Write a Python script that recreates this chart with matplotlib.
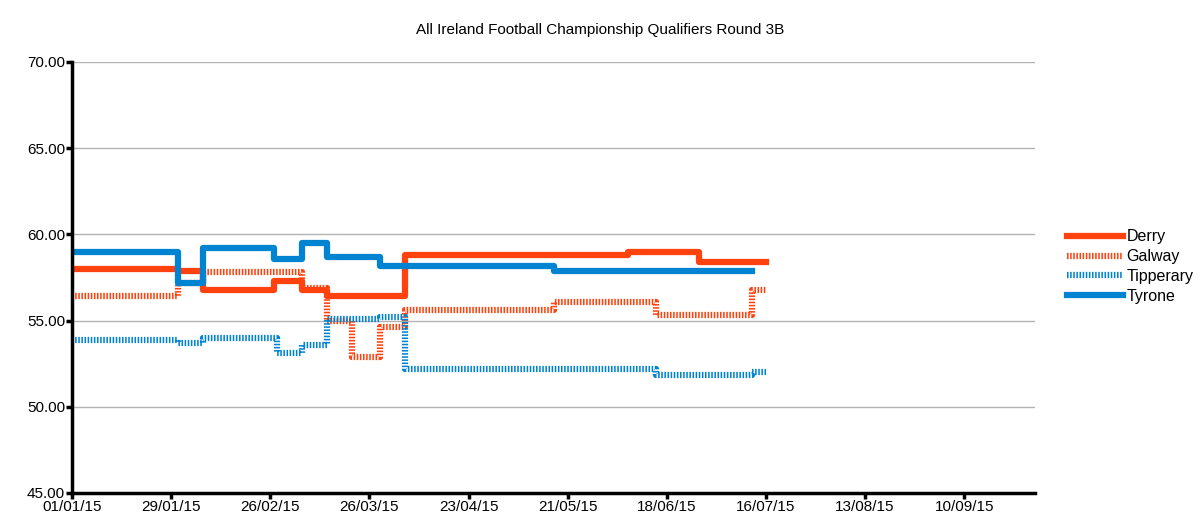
import numpy as np
import matplotlib.pyplot as plt
import matplotlib.dates as mdates
import pandas as pd

plt.rcParams['font.family'] = ['Liberation Sans', 'DejaVu Sans']

# step data (change dates and values, last entry = end of line)
derry_dates = ['2015-01-01', '2015-01-31', '2015-02-07', '2015-02-27', '2015-03-07',
               '2015-03-14', '2015-04-05', '2015-06-07', '2015-06-27', '2015-07-16']
derry_vals = [58.0, 57.9, 56.8, 57.3, 56.8, 56.4, 58.8, 59.0, 58.4, 58.4]

galway_dates = ['2015-01-01', '2015-01-31', '2015-02-07', '2015-03-07', '2015-03-14',
                '2015-03-21', '2015-03-29', '2015-04-05', '2015-05-17', '2015-06-15',
                '2015-07-12', '2015-07-16']
galway_vals = [56.4, 57.2, 57.8, 56.9, 55.0, 52.9, 54.6, 55.6, 56.1, 55.3, 56.8, 56.8]

tipp_dates = ['2015-01-01', '2015-01-31', '2015-02-07', '2015-02-28', '2015-03-07',
              '2015-03-14', '2015-03-29', '2015-04-05', '2015-06-15', '2015-07-12',
              '2015-07-16']
tipp_vals = [53.9, 53.7, 54.0, 53.1, 53.6, 55.1, 55.2, 52.2, 51.85, 52.0, 52.0]

tyrone_dates = ['2015-01-01', '2015-01-31', '2015-02-07', '2015-02-27', '2015-03-07',
                '2015-03-14', '2015-03-29', '2015-05-17', '2015-07-12']
tyrone_vals = [59.0, 57.2, 59.2, 58.6, 59.5, 58.7, 58.15, 57.9, 57.9]

orange = '#ff420e'
blue = '#0084d1'
dots = (0, (0.25, 0.25))

fig = plt.figure(figsize=(12, 5.28), dpi=100)
ax = fig.add_axes([0.06, 0.0663, 0.8025, 0.8163])

ax.plot(pd.to_datetime(derry_dates), derry_vals, drawstyle='steps-post', color=orange,
        lw=4.5, label='Derry', solid_joinstyle='round')
ax.plot(pd.to_datetime(galway_dates), galway_vals, drawstyle='steps-post', color=orange,
        lw=4.5, ls=dots, dash_capstyle='butt', label='Galway')
ax.plot(pd.to_datetime(tipp_dates), tipp_vals, drawstyle='steps-post', color=blue,
        lw=4.5, ls=dots, dash_capstyle='butt', label='Tipperary')
ax.plot(pd.to_datetime(tyrone_dates), tyrone_vals, drawstyle='steps-post', color=blue,
        lw=4.5, label='Tyrone', solid_joinstyle='round')

ax.set_ylim(45, 70)
ax.set_yticks(np.arange(45, 71, 5))
ax.yaxis.set_major_formatter(plt.FormatStrFormatter('%.2f'))
ax.set_xlim(pd.Timestamp('2015-01-01'), pd.Timestamp('2015-09-30'))
ax.set_xticks(pd.date_range('2015-01-01', '2015-09-10', freq='28D'))
ax.xaxis.set_major_formatter(mdates.DateFormatter('%d/%m/%y'))

ax.grid(axis='y', color='#b3b3b3', lw=1)
ax.set_axisbelow(True)
for s in ['top', 'right']:
    ax.spines[s].set_visible(False)
for s in ['left', 'bottom']:
    ax.spines[s].set_linewidth(2.5)
ax.tick_params(width=2.5, length=4, labelsize=11, pad=1)

fig.text(0.5, 0.943, 'All Ireland Football Championship Qualifiers Round 3B',
         fontsize=11, ha='center', va='center')
ax.legend(loc='upper left', bbox_to_anchor=(1.018, 0.645), frameon=False, fontsize=11.5,
          handlelength=3.5, handletextpad=0.25, labelspacing=0.3)

fig.savefig('out.png', dpi=100)
